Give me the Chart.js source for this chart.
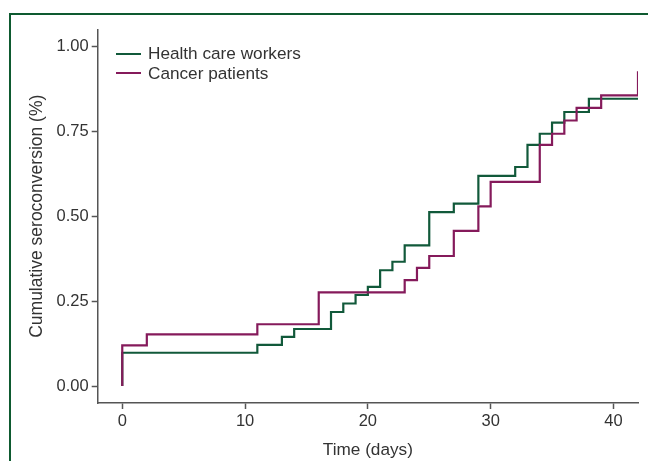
<!DOCTYPE html>
<html>
<head>
<meta charset="utf-8">
<script src="https://cdn.jsdelivr.net/npm/chart.js@4.4.1/dist/chart.umd.min.js"></script>
<style>
  body { margin: 0; background: #fff; }
  #wrap { position: relative; width: 648px; height: 461px; overflow: hidden; }
  #frame { position: absolute; left: 9px; top: 13px; width: 700px; height: 500px;
           border-top: 2.5px solid #0e5a30; border-left: 2px solid #0e5a30; }
  #legend { position: absolute; left: 116px; top: 44px; font: 17.2px "Liberation Sans", Arial, sans-serif; color: #333; }
  #legend .row { display: flex; align-items: center; height: 19.5px; }
  #legend .swatch { width: 25px; height: 2px; margin-right: 7px; }
  canvas { position: absolute; left: 0; top: 0; }
</style>
</head>
<body>
<div id="wrap">
  <div id="frame"></div>
  <canvas id="chart" width="648" height="461"></canvas>
  <div id="legend"></div>
</div>
<script>
// ===== DATA =====
const hcwDays   = [0, 0, 11, 13, 14, 17, 18, 19, 20, 21, 22, 23, 25, 27, 29, 32, 33, 34, 35, 36, 38, 42];
const hcwValues = [0, 0.098, 0.121, 0.145, 0.168, 0.218, 0.243, 0.268, 0.292, 0.341, 0.366, 0.414, 0.512, 0.537, 0.619, 0.645, 0.71, 0.743, 0.776, 0.807, 0.846, 0.846];

const cancerDays   = [0, 0, 2, 11, 16, 23, 24, 25, 27, 29, 30, 34, 35, 36, 37, 39, 42, 42];
const cancerValues = [0, 0.12, 0.152, 0.182, 0.276, 0.312, 0.348, 0.383, 0.457, 0.529, 0.601, 0.71, 0.743, 0.782, 0.819, 0.856, 0.856, 0.927];

const xTicks = [0, 10, 20, 30, 40];
const yTicks = [0, 0.25, 0.5, 0.75, 1.0];

const GREEN = '#11593a';
const MAGENTA = '#851a5b';
const AXIS = '#555';
const FONT = '"Liberation Sans", Arial, sans-serif';

const toPoints = (xs, ys) => xs.map((x, i) => ({ x: x, y: ys[i] }));

// ===== CHART =====
const chart = new Chart(document.getElementById('chart'), {
    type: 'line',
    data: {
        datasets: [
            {
                label: 'Health care workers',
                data: toPoints(hcwDays, hcwValues),
                borderColor: GREEN,
                borderWidth: 2.2,
                stepped: true,
                pointRadius: 0,
                order: 1
            },
            {
                label: 'Cancer patients',
                data: toPoints(cancerDays, cancerValues),
                borderColor: MAGENTA,
                borderWidth: 2.2,
                stepped: true,
                pointRadius: 0,
                order: 0
            }
        ]
    },
    options: {
        responsive: false,
        animation: false,
        layout: { padding: { top: 29.5, right: 10, left: 0, bottom: 0 } },
        plugins: { legend: { display: false }, tooltip: { enabled: false } },
        scales: {
            x: {
                type: 'linear',
                min: -2, max: 42,
                afterBuildTicks: s => { s.ticks = xTicks.map(v => ({ value: v })); },
                afterFit: s => { s.height = 58; },
                ticks: { color: '#333', font: { family: FONT, size: 16.5 }, padding: 3 },
                grid: { drawOnChartArea: false, tickLength: 6, tickColor: AXIS, tickWidth: 1.5 },
                border: { color: AXIS, width: 1.5 },
                title: { display: true, text: 'Time (days)', color: '#333', font: { family: FONT, size: 17.2 }, padding: 0 }
            },
            y: {
                min: -0.05, max: 1.05,
                afterBuildTicks: s => { s.ticks = yTicks.map(v => ({ value: v })); },
                afterFit: s => { s.width = 97.7; },
                ticks: { color: '#333', font: { family: FONT, size: 16.5 }, padding: 3, callback: v => v.toFixed(2) },
                grid: { drawOnChartArea: false, tickLength: 6, tickColor: AXIS, tickWidth: 1.5 },
                border: { color: AXIS, width: 1.5 },
                title: { display: true, text: 'Cumulative seroconversion (%)', color: '#333', font: { family: FONT, size: 17.5 }, padding: { top: 26.5, bottom: 0 } }
            }
        }
    }
});

// ===== LEGEND =====
const legend = document.getElementById('legend');
chart.data.datasets.forEach(ds => {
    const row = document.createElement('div');
    row.className = 'row';
    row.innerHTML = '<span class="swatch" style="background:' + ds.borderColor + '"></span><span>' + ds.label + '</span>';
    legend.appendChild(row);
});
</script>
</body>
</html>
